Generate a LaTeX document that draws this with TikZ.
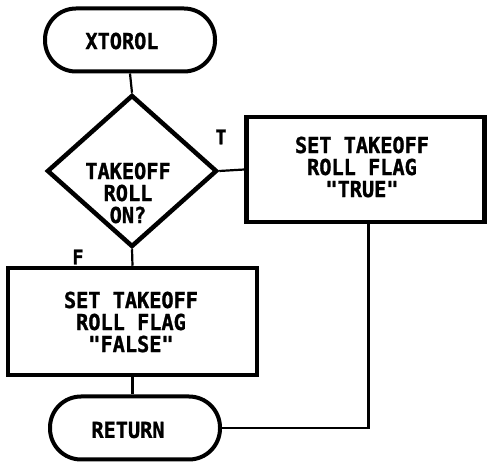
\documentclass[tikz,border=0pt]{standalone}
\usepackage{fontspec}
\newfontfamily\chartfont[FakeStretch=0.92, BoldFeatures={FakeStretch=0.92, FakeBold=1.2}]{DejaVu Sans Mono}
\usetikzlibrary{shapes.geometric}
\tikzset{
  term/.style={draw, line width=4pt, rounded corners=31pt, minimum width=170pt, minimum height=63pt, inner sep=0pt},
  procbox/.style={draw, line width=4.5pt, inner sep=0pt},
  decide/.style={draw, diamond, line width=4.5pt, minimum width=170pt, minimum height=152pt, inner sep=0pt},
  txt/.style={font=\chartfont\bfseries\fontsize{22}{22}\selectfont, align=center, inner sep=0pt},
  conn/.style={line width=2.2pt},
  flow/.style={font=\chartfont\bfseries\fontsize{20}{20}\selectfont, inner sep=0pt}
}
\begin{document}
\begin{tikzpicture}[x=1pt,y=-1pt]
\useasboundingbox (0,0) rectangle (488,465);
\node[term] (start) at (130,40) {};
\node[txt] (starttext) at (122,41) {XTOROL};
\node[decide] (dec) at (132,171) {};
\node[txt] (dectext) at (128,193) {TAKEOFF\\ROLL\\ON?};
\node[procbox, minimum width=238pt, minimum height=105pt] (truebox) at (365.5,169.5) {};
\node[txt] (truetext) at (362,167) {SET TAKEOFF\\ROLL FLAG\\"TRUE"};
\node[procbox, minimum width=249pt, minimum height=107pt] (falsebox) at (132.5,321.5) {};
\node[txt] (falsetext) at (131,322) {SET TAKEOFF\\ROLL FLAG\\"FALSE"};
\node[term] (ret) at (135,428) {};
\node[txt] (rettext) at (128,430) {RETURN};
\node[flow] (tlabel) at (221,137) {T};
\node[flow] (flabel) at (78,257) {F};
\draw[conn] (start.south) -- (dec.north);
\draw[conn] (dec.east) -- (truebox.west);
\draw[conn] (dec.south) -- (falsebox.north);
\draw[conn] (falsebox.south) -- (ret.north -| falsebox.south);
\draw[conn] ([xshift=3pt]truebox.south) |- (ret.east);
\end{tikzpicture}
\end{document}
